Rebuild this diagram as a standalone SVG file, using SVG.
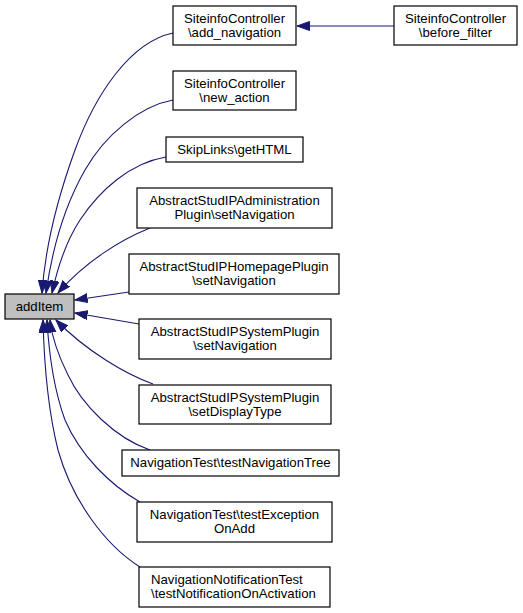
<svg xmlns="http://www.w3.org/2000/svg" width="523" height="613" viewBox="0 0 523 613">
<style>
.n rect{fill:#fff;stroke:#000;stroke-width:1.2}
#addItem rect{fill:#bfbfbf}
text{font-family:"Liberation Sans",Arial,sans-serif;font-size:13.2px;fill:#000;text-anchor:middle}
.l{text-anchor:start}
.e path{fill:none;stroke:#191970;stroke-width:1.1;marker-end:url(#ah)}
</style>
<defs>
<marker id="ah" markerWidth="14" markerHeight="10" refX="12.5" refY="4.5" orient="auto" markerUnits="userSpaceOnUse">
<path d="M0,0 L12.5,4.5 L0,9 z" fill="#191970" stroke="#191970" stroke-width="1"/>
</marker>
</defs>
<rect width="523" height="613" fill="#fff"/>
<g class="e" id="edges">
<path d="M394,26 L297,26"/>
<path d="M173,33 C130,42 95,95 75,150 C55,205 45,250 42,293"/>
<path d="M173,100 C140,106 105,135 85,170 C65,205 52,250 46,293"/>
<path d="M166,157 C130,163 100,190 80,220 C65,243 57,270 52,293"/>
<path d="M150,228 C120,240 85,262 58,293"/>
<path d="M129,292 L75,300"/>
<path d="M139,324 L75,313"/>
<path d="M153,384 C125,374 85,350 56,320"/>
<path d="M150,450 C115,438 82,405 68,375 C58,355 52,338 50,320"/>
<path d="M140,502 C110,485 80,455 65,420 C54,390 49,355 47,320"/>
<path d="M140,567 C105,545 72,500 58,450 C48,410 44,360 43,320"/>
</g>
<g class="n" id="addItem"><rect x="5" y="294" width="69" height="25"/><text x="39.5" y="311">addItem</text></g>
<g class="n" id="add_navigation"><rect x="173" y="6" width="123" height="39"/><text x="234.5" y="23">SiteinfoController</text><text x="234.5" y="37">\add_navigation</text></g>
<g class="n" id="before_filter"><rect x="394" y="6" width="123" height="39"/><text x="455.5" y="23">SiteinfoController</text><text x="455.5" y="37">\before_filter</text></g>
<g class="n" id="new_action"><rect x="173" y="71" width="123" height="39"/><text x="234.5" y="88">SiteinfoController</text><text x="234.5" y="102">\new_action</text></g>
<g class="n" id="getHTML"><rect x="166" y="137" width="137" height="25"/><text x="234.5" y="154">SkipLinks\getHTML</text></g>
<g class="n" id="adminSetNav"><rect x="137" y="188" width="195" height="40"/><text x="234.5" y="205">AbstractStudIPAdministration</text><text x="234.5" y="219">Plugin\setNavigation</text></g>
<g class="n" id="homepageSetNav"><rect x="129" y="254" width="210" height="40"/><text x="234" y="271">AbstractStudIPHomepagePlugin</text><text x="234" y="285">\setNavigation</text></g>
<g class="n" id="systemSetNav"><rect x="139" y="319" width="192" height="40"/><text x="235" y="336">AbstractStudIPSystemPlugin</text><text x="235" y="350">\setNavigation</text></g>
<g class="n" id="systemSetDisplayType"><rect x="139" y="385" width="192" height="39"/><text x="235" y="402">AbstractStudIPSystemPlugin</text><text x="235" y="416">\setDisplayType</text></g>
<g class="n" id="testNavigationTree"><rect x="122" y="450" width="217" height="26"/><text x="230.5" y="467">NavigationTest\testNavigationTree</text></g>
<g class="n" id="testExceptionOnAdd"><rect x="137" y="502" width="195" height="40"/><text x="234.5" y="519">NavigationTest\testException</text><text x="234.5" y="533">OnAdd</text></g>
<g class="n" id="testNotificationOnActivation"><rect x="139" y="567" width="191" height="40"/><text class="l" x="151" y="584">NavigationNotificationTest</text><text class="l" x="151" y="598">\testNotificationOnActivation</text></g>
</svg>
